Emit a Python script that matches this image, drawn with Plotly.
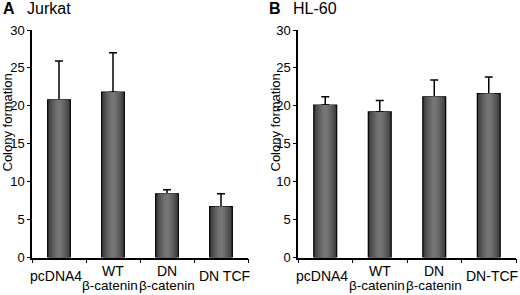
import plotly.graph_objects as go

categories = ["pcDNA4", "WT", "DN", "DN TCF"]
categories_b = ["pcDNA4", "WT", "DN", "DN-TCF"]
second_line = ["", "β-catenin", "β-catenin", ""]
jurkat_values = [20.8, 21.8, 8.4, 6.7]
jurkat_errors = [5.1, 5.2, 0.55, 1.7]
hl60_values = [20.1, 19.2, 21.2, 21.6]
hl60_errors = [1.1, 1.5, 2.2, 2.2]
y_ticks = [0, 5, 10, 15, 20, 25, 30]

FONT = "Liberation Sans, Arial, sans-serif"
W, H = 520, 295

# shading layers to mimic cylindrical bar gradient (width, colour)
layers = [(0.42, "#3c3c3c"), (0.36, "#4a4a4a"), (0.29, "#575757"),
          (0.22, "#636363"), (0.15, "#6d6d6d"), (0.08, "#757575")]
label_xshift = [-3, 0, 0, 3]
line2_xshift = [0, -3, 0, 0]

fig = go.Figure()

def add_panel(cats, vals, errs, xa, ya):
    for i, (w, c) in enumerate(layers):
        first = i == 0
        fig.add_trace(go.Bar(
            x=list(range(len(cats))), y=vals, width=w,
            marker=dict(color=c, line=dict(color="black", width=1.2 if first else 0)),
            error_y=dict(type="data", array=errs, arrayminus=[0] * len(errs),
                         symmetric=False, color="black", thickness=1.5, width=4,
                         visible=first),
            xaxis=xa, yaxis=ya, showlegend=False, hoverinfo="skip"))

add_panel(categories, jurkat_values, jurkat_errors, "x", "y")
add_panel(categories_b, hl60_values, hl60_errors, "x2", "y2")

ydom = [(H - 257.5) / H, (H - 30) / H]
xdom1 = [32 / W, 248 / W]
xdom2 = [298 / W, 516 / W]

common_x = dict(range=[-0.5, 3.5], showline=True, linecolor="black", linewidth=1.5,
                ticks="", showticklabels=False,
                minor=dict(tickvals=[-0.5, 0.5, 1.5, 2.5, 3.5], ticks="outside", ticklen=4,
                           tickcolor="black", tickwidth=1.2, showgrid=False),
                showgrid=False, zeroline=False, automargin=False)
common_y = dict(range=[0, 30], tickvals=y_ticks, showline=True, linecolor="black",
                linewidth=1.5, ticks="outside", ticklen=3, tickcolor="black",
                tickwidth=1.2, showgrid=False, zeroline=False, automargin=False,
                tickfont=dict(family=FONT, size=13, color="black"), domain=ydom)

fig.update_layout(
    width=W, height=H, margin=dict(l=0, r=0, t=0, b=0),
    paper_bgcolor="white", plot_bgcolor="white", barmode="overlay",
    xaxis=dict(domain=xdom1, anchor="y", **common_x),
    yaxis=dict(anchor="x", **common_y),
    xaxis2=dict(domain=xdom2, anchor="y2", **common_x),
    yaxis2=dict(anchor="x2", **common_y),
)

annotations = []
lab_font = dict(family=FONT, size=14, color="black")
for xr, cats in (("x", categories), ("x2", categories_b)):
    for i, (t1, t2) in enumerate(zip(cats, second_line)):
        y1 = 270.5 if t2 else 276
        annotations.append(dict(x=i, y=(H - y1) / H, xref=xr, yref="paper", text=t1,
                                xshift=label_xshift[i], showarrow=False, xanchor="center",
                                yanchor="middle", font=lab_font, borderpad=0))
        if t2:
            annotations.append(dict(x=i, y=(H - 285) / H, xref=xr, yref="paper", text=t2,
                                    xshift=line2_xshift[i], showarrow=False,
                                    xanchor="center", yanchor="middle", borderpad=0,
                                    font=dict(family=FONT, size=13.5, color="black")))
# y-axis titles
for xc in (7, 275):
    annotations.append(dict(x=xc / W, y=(H - 122.5) / H, xref="paper", yref="paper",
                            text="Colony formation", textangle=-90, showarrow=False,
                            xanchor="center", yanchor="middle", borderpad=0,
                            font=dict(family=FONT, size=13, color="black")))
# panel titles
for lx, letter, nx, name in ((1, "A", 25, "Jurkat"), (267, "B", 291, "HL-60")):
    annotations.append(dict(x=lx / W, y=(H - 8.5) / H, xref="paper", yref="paper",
                            text="<b>" + letter + "</b>", showarrow=False, xanchor="left",
                            yanchor="middle", font=dict(family=FONT, size=16, color="black")))
    annotations.append(dict(x=nx / W, y=(H - 8.5) / H, xref="paper", yref="paper",
                            text=name, showarrow=False, xanchor="left",
                            yanchor="middle", font=dict(family=FONT, size=16, color="black")))
fig.update_layout(annotations=annotations)

fig.write_html("out.html", config={"displayModeBar": False},
               post_script="document.body.style.margin='0';document.body.style.padding='0';")
